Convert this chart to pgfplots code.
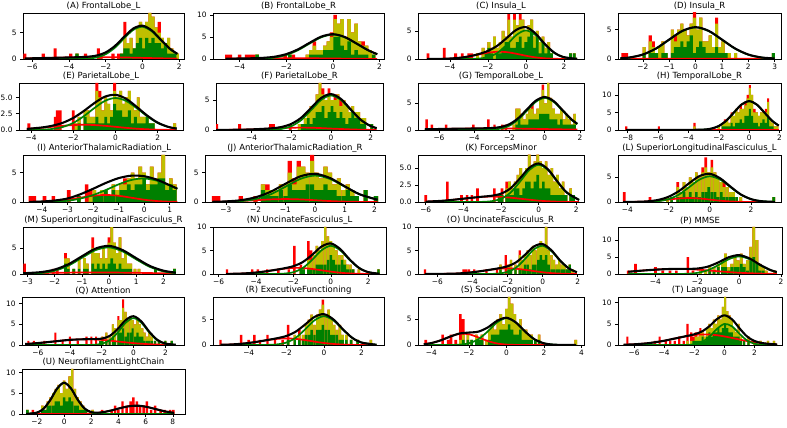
\documentclass[border=0pt]{standalone}
\usepackage{pgfplots}
\pgfplotsset{compat=1.18}
\usepackage{pgfplotstable}
\usepackage{fontspec}
\setmainfont{DejaVu Sans}
\definecolor{cr}{rgb}{1,0,0}
\definecolor{cy}{rgb}{0.75,0.75,0}
\definecolor{cg}{rgb}{0,0.5,0}
\pgfplotsset{
  hb/.style={ybar, bar shift=0pt, draw=none},
  panel/.style={scale only axis, ymin=0, anchor=south west,
    axis line style={line width=0.6pt},
    tick align=outside, major tick length=3pt, tick style={line width=0.5pt, black},
    xtick pos=lower, ytick pos=left,
    tick label style={font=\fontsize{7.4}{8.5}\selectfont},
    xticklabel style={yshift=1.5pt},
    every axis title shift=0pt,
    title style={font=\fontsize{8.5}{10}\selectfont, at={(0.5,1)}, anchor=south, inner sep=0pt, yshift=2.3pt},
    clip=true},
}
\newcommand{\hist}[1]{%
\addplot[hb, fill=cr] table[x=x,y=r]{#1};
\addplot[hb, fill=cy] table[x=x,y=o]{#1};
\addplot[hb, fill=cg] table[x=x,y=g]{#1};}
\newcommand{\curves}[1]{%
\addplot[cr, line width=1.7pt, smooth] table[x=x,y=r]{#1};
\addplot[cg, line width=1.7pt, smooth] table[x=x,y=g]{#1};
\addplot[black, line width=2.1pt, smooth] table[x=x,y=k]{#1};}

% ---------------- histograms: x red yellow green ----------------
\pgfplotstableread{
x r o g
-6.40 1 0 0
-5.40 1 0 0
-4.75 2 0 0
-3.90 1 0 0
-3.56 1 1 1
-3.10 1 0 0
-2.40 2 0 0
-2.25 1 0 0
-1.60 1 0 0
-1.30 1 0 0
-1.13 1 1 1
-0.96 7 4 2
-0.79 3 3 2
-0.62 4 4 1
-0.45 2 2 2
-0.28 6 6 3
-0.11 7 7 4
0.06 6 6 2
0.23 7 7 4
0.40 8.7 8.7 3
0.57 8 8 4
0.74 6 6 3
0.91 7 5 3
1.08 4 4 2
1.25 3 3 3
1.42 4 4 1
1.59 2 2 1
1.76 1 1 1
1.90 1 1 0
}\hA
\pgfplotstableread{
x r o g
-4.55 1 0 0
-4.40 1 0 0
-4.00 1 0 0
-3.70 1 0 0
-3.55 1 0 0
-3.40 1 0 0
-3.25 1 1 1
-2.05 1 0 0
-1.85 1 1 1
-1.70 1 0 0
-1.10 1 1 0
-0.95 2 2 1
-0.80 4 3 1
-0.65 2 2 1
-0.50 2 2 1
-0.35 3 3 2
-0.20 4 4 2
-0.05 6 5 2
0.10 10 9 5
0.25 8 8 5
0.40 9 9 3
0.55 5 5 2
0.70 9 9 4
0.85 6 6 1
1.00 8 8 2
1.15 4 4 1
1.30 4 3 1
1.45 3 3 1
1.60 2 2 0
1.75 1 1 1
}\hB
\pgfplotstableread{
x r o g
-5.15 1 0 0
-4.30 2 0 0
-3.70 1 0 0
-3.35 1 0 0
-3.00 1 0 0
-2.85 1 0 0
-2.55 1 1 0
-2.25 2 2 0
-2.10 1 1 1
-1.95 3 3 2
-1.80 2 2 1
-1.65 4 4 0
-1.50 2 2 1
-1.35 3 3 1
-1.20 5 5 2
-1.05 4 4 3
-0.90 8 7 3
-0.75 4 4 2
-0.60 8 7 2
-0.45 6 6 3
-0.30 8 7 4
-0.15 7 7 2
0.00 5 5 3
0.15 6 6 4
0.30 7 7 5
0.45 4 4 2
0.60 5 5 4
0.75 3 3 1
0.90 4 4 3
1.05 2 2 1
1.20 3 3 2
1.35 1 1 1
2.35 1 1 1
2.55 1 1 1
}\hC
\pgfplotstableread{
x r o g
-2.75 1 0 0
-2.62 1 0 0
-1.95 2 2 1
-1.72 4 3 1
-1.60 3 2 1
-1.48 1 1 1
-1.36 2 2 0
-1.24 3 3 1
-1.12 1 1 1
-0.88 5 5 1
-0.76 4 3 2
-0.64 5 5 2
-0.52 6 6 3
-0.40 5 5 2
-0.28 4 4 3
-0.16 6 6 4
-0.04 8 7 1
0.08 5 5 2
0.20 7 7 3
0.32 3 3 2
0.44 3 3 1
0.56 4 4 1
0.68 2 2 1
0.80 7 6 2
0.92 2 2 1
1.04 3 3 1
1.16 1 1 1
1.28 1 1 0
1.52 1 1 0
2.95 1 1 1
}\hD
\pgfplotstableread{
x r o g
-4.10 1 0 0
-2.85 2 0 0
-2.75 3 0 0
-2.62 3 0 0
-2.00 3 0 0
-1.86 1 1 0
-1.72 2 2 1
-1.44 3 3 2
-1.30 3 3 1
-1.16 2 2 1
-1.02 2 2 1
-0.88 7.2 6 2
-0.74 6 5 1
-0.60 3 3 1
-0.46 5 5 2
-0.32 4 4 1
-0.18 3 3 2
-0.04 7.2 6 4
0.10 5 5 3
0.24 6 6 3
0.38 4 4 2
0.52 5 5 2
0.66 6 6 3
0.80 4 4 1
0.94 3 3 2
1.08 5 5 1
1.22 2 2 1
1.36 2 2 1
1.50 2 2 2
1.64 1 1 1
1.78 1 1 1
2.80 1 1 0
}\hE
\pgfplotstableread{
x r o g
-5.75 1 0 0
-4.60 1 0 0
-3.05 1 0 0
-2.90 1 0 0
-2.05 1 0 0
-1.60 1 1 0
-1.45 1 1 1
-1.30 2 2 1
-1.15 3 3 2
-1.00 4 4 1
-0.85 4 4 2
-0.70 6 6 3
-0.55 7.9 7.9 3
-0.40 7 6 4
-0.25 5 5 2
-0.10 7 6 3
0.05 5 5 4
0.20 6 5 3
0.35 6 6 2
0.50 5 4 3
0.65 5 5 2
0.80 4 4 1
0.95 3 3 2
1.10 4 4 3
1.25 3 3 2
1.40 3 3 2
1.55 2 2 1
1.70 2 2 1
2.05 1 1 1
}\hF
\pgfplotstableread{
x r o g
-6.70 2 0 0
-6.40 1 0 0
-5.60 1 0 0
-4.05 1 0 0
-3.20 2 0 0
-2.85 1 0 0
-2.40 1 0 0
-2.20 1 0 0
-1.75 1 1 0
-1.60 4 4 1
-1.45 4 4 2
-1.30 3 3 1
-1.15 2 2 1
-1.00 3 3 1
-0.85 4 4 2
-0.70 5 4 2
-0.55 3 3 2
-0.40 4 4 2
-0.25 6 6 3
-0.10 8.5 7.5 3
0.05 5 5 3
0.20 8.8 8.8 3
0.35 6 6 2
0.50 4 4 2
0.65 3 3 2
0.80 3 3 1
0.95 4 4 2
1.10 2 2 1
1.25 3 3 1
1.40 2 2 1
1.55 1 1 1
1.70 3 3 1
}\hG
\pgfplotstableread{
x r o g
-8.10 1 0 0
-5.95 1 0 0
-3.60 2 1 0
-2.00 1 1 0
-1.75 2 2 1
-1.60 3 2 1
-1.45 3 3 1
-1.30 2 2 1
-1.15 5 4 2
-1.00 4 4 1
-0.85 6 6 2
-0.70 5 5 2
-0.55 7 6 3
-0.40 6 6 2
-0.25 8 7 4
-0.10 10 9 4
0.05 12.8 12 6
0.20 10 10 4
0.35 6 5 2
0.50 5 5 2
0.65 4 4 1
0.80 5 5 2
0.95 5 5 3
1.10 6 5 2
1.25 9 8 4
1.40 3 3 1
1.55 2 2 1
1.70 1 1 0
1.85 1 1 0
}\hH
\pgfplotstableread{
x r o g
-4.45 1 0 0
-4.30 1 0 0
-3.90 1 0 0
-3.55 1 0 0
-2.95 2 0 0
-2.55 1 1 1
-2.25 3 0 0
-2.10 2 1 0
-1.95 2 2 1
-1.80 1 1 1
-1.65 2 2 1
-1.50 2 2 2
-1.35 1 1 1
-1.20 3 3 2
-1.05 2 2 1
-0.90 3 3 2
-0.75 4 3 2
-0.60 4 4 3
-0.45 5 5 2
-0.30 4 4 3
-0.15 6 6 3
0.00 5 5 4
0.15 3 3 2
0.30 6 6 3
0.45 4 4 3
0.60 5 5 4
0.75 8 8 4
0.90 3 3 2
1.05 4 4 3
1.20 3 3 2
}\hI
\pgfplotstableread{
x r o g
-3.40 1 0 0
-3.25 1 0 0
-2.50 1 0 0
-2.00 1 0 0
-1.75 3 3 2
-1.60 3 2 1
-1.45 2 2 1
-1.30 2 2 1
-1.15 3 3 2
-1.00 3 3 1
-0.85 7 5 3
-0.70 4 3 2
-0.55 7 6 2
-0.40 6 6 2
-0.25 5 5 3
-0.10 8 7 3
0.05 5 5 2
0.20 4 4 2
0.35 6 6 3
0.50 5 5 2
0.65 3 3 2
0.80 4 4 1
0.95 2 2 1
1.10 3 3 2
1.25 2 2 1
1.40 1 1 1
1.70 2 2 2
2.05 1 1 1
}\hJ
\pgfplotstableread{
x r o g
-6.00 1 0 0
-4.85 3 0 0
-4.10 1 0 0
-3.80 1 0 0
-3.55 1 0 0
-3.25 2 0 0
-2.35 2 0 0
-2.10 1 1 1
-1.95 2 1 1
-1.70 3 2 1
-1.55 3 3 1
-1.40 2 2 1
-1.25 3 3 2
-1.10 4 4 2
-0.95 5 5 1
-0.80 4 4 2
-0.65 5 5 3
-0.50 7 7 3
-0.35 5 5 2
-0.20 6 6 3
-0.05 7 7 4
0.10 6 6 2
0.25 5 5 3
0.40 6 6 2
0.55 4 4 2
0.70 5 5 1
0.85 3 3 1
1.00 4 4 1
1.15 2 2 1
1.30 3 3 1
1.45 1 1 1
1.70 2 2 1
1.85 1 1 1
}\hK
\pgfplotstableread{
x r o g
-4.15 2 0 0
-2.90 1 0 0
-2.05 1 1 0
-1.85 1 1 1
-1.55 4 3 1
-1.40 2 2 1
-1.25 4 4 2
-1.10 3 3 1
-0.95 5 5 2
-0.80 4 4 1
-0.65 6 6 2
-0.50 5 5 1
-0.35 7 6 2
-0.20 9 7 2
-0.05 6 6 3
0.10 8.5 7 2
0.25 6 6 2
0.40 5 5 1
0.55 4 4 2
0.70 4 3 1
0.85 3 3 1
1.00 2 2 1
1.15 2 2 1
1.30 1 1 1
1.50 1 1 0
3.10 1 1 1
}\hL
\pgfplotstableread{
x r o g
-3.10 2 0 0
-2.05 1 0 0
-1.90 1 0 0
-1.60 4 3 2
-1.50 3 3 1
-1.30 1 1 1
-1.10 3 3 1
-0.90 3 3 1
-0.80 2 2 1
-0.60 7 5 2
-0.50 4 4 1
-0.40 4 4 2
-0.30 3 3 1
-0.20 5 5 2
-0.10 3 3 1
0.00 7 6 2
0.10 9 9 3
0.20 6 6 2
0.30 4 4 1
0.40 7 7 2
0.50 3 3 1
0.60 4 4 1
0.70 2 2 1
0.80 2 2 1
0.95 1 1 0
1.10 1 1 0
1.70 1 1 1
2.40 1 1 1
}\hM
\pgfplotstableread{
x r o g
-5.55 1 0 0
-4.20 1 0 0
-3.90 1 0 0
-3.40 1 0 0
-2.80 1 0 0
-2.25 1 0 0
-1.95 6 0 0
-1.60 2 1 1
-1.45 1 1 1
-1.20 7 3 1
-1.05 5 3 1
-0.90 4 4 1
-0.75 6 6 2
-0.60 5 5 2
-0.45 7 7 2
-0.30 10 10 2
-0.15 8 8 3
0.00 7 7 4
0.15 6 6 3
0.30 5 5 2
0.45 4 4 2
0.60 4 4 3
0.75 3 3 2
0.90 2 2 1
1.05 2 2 1
1.20 1 1 1
1.50 1 1 0
2.55 1 1 1
}\hN
\pgfplotstableread{
x r o g
-6.70 1 0 0
-4.50 1 0 0
-4.35 1 0 0
-4.20 1 0 0
-3.90 1 0 0
-3.20 1 0 0
-2.60 1 0 0
-2.40 2 2 1
-2.10 4 0 0
-1.95 2 2 1
-1.80 3 3 1
-1.55 2 2 1
-1.30 5 4 1
-1.15 3 3 1
-1.00 4 4 2
-0.85 5 5 2
-0.70 4 4 1
-0.55 6 6 2
-0.40 5 5 2
-0.25 6 6 3
-0.10 7 7 4
0.05 6 6 3
0.20 10 10 4
0.35 5 5 2
0.50 4 4 1
0.65 3 3 1
0.80 2 2 1
0.95 3 3 1
1.10 2 2 1
1.25 2 2 1
1.40 1 1 1
1.55 2 2 2
1.70 1 1 0
}\hO
\pgfplotstableread{
x r o g
-5.30 1 0 0
-4.95 3 0 0
-4.00 2 0 0
-3.65 1 0 0
-3.30 1 0 0
-3.00 1 0 0
-2.45 5 0 0
-2.20 1 0 0
-1.85 1 1 0
-1.60 1 1 0
-1.40 2 2 1
-1.20 2 2 1
-1.00 3 3 2
-0.80 4 4 2
-0.65 6 6 2
-0.50 2 2 1
-0.35 3 3 2
-0.20 5 5 2
-0.05 4 4 2
0.10 6 6 3
0.25 3 3 2
0.40 4 4 1
0.55 8 8 4
0.70 13.9 13.9 5
0.85 10 10 3
1.00 3 3 1
1.15 2 2 1
1.30 1 1 0
1.70 1 1 0
}\hP
\pgfplotstableread{
x r o g
-6.60 1 0 0
-6.25 1 0 0
-5.60 1 0 0
-4.90 3 0 0
-4.45 1 0 0
-4.00 2 0 0
-3.50 1 0 0
-2.95 2 0 0
-2.65 2 0 0
-2.35 2 0 0
-2.10 1 1 1
-1.95 2 2 1
-1.70 3 3 1
-1.50 2 2 1
-1.30 5 5 2
-1.15 4 4 1
-0.95 7 6 3
-0.80 6 6 3
-0.65 11 9 4
-0.50 8 8 2
-0.35 6 6 3
-0.20 7 7 3
-0.05 6 6 4
0.10 5 5 2
0.25 6 6 3
0.40 5 5 2
0.55 4 4 2
0.70 3 3 1
0.85 2 2 1
1.00 3 3 1
1.15 2 2 1
1.35 1 1 1
1.60 1 1 1
2.00 1 1 1
2.40 1 1 1
}\hQ
\pgfplotstableread{
x r o g
-5.50 1 0 0
-4.40 2 0 0
-4.00 1 0 0
-3.70 2 0 0
-3.40 1 0 0
-3.00 2 0 0
-2.60 1 0 0
-2.20 1 0 0
-1.90 4 1 1
-1.55 2 2 1
-1.30 3 2 1
-1.10 2 2 1
-0.95 4 4 2
-0.80 5 5 2
-0.65 6 6 3
-0.50 4 4 2
-0.35 6 6 3
-0.20 7 7 3
-0.05 9 8 4
0.10 6 6 3
0.25 7 7 3
0.40 5 5 2
0.55 4 4 2
0.70 3 3 2
0.85 4 4 1
1.00 2 2 1
1.20 2 2 1
1.45 1 1 1
1.80 1 1 1
2.50 1 1 0
}\hR
\pgfplotstableread{
x r o g
-4.30 1 0 0
-3.40 2 0 0
-3.10 1 0 0
-2.95 2 0 0
-2.70 1 0 0
-2.45 6 1 0
-2.30 5 2 1
-2.05 2 2 1
-1.85 1 1 1
-1.60 2 2 1
-1.45 1 1 1
-1.30 2 2 1
-1.05 1 1 0
-0.90 3 3 1
-0.75 4 4 2
-0.60 3 3 2
-0.45 5 5 2
-0.30 6 6 3
-0.15 4 4 3
0.00 7 7 3
0.15 9.3 9.3 4
0.30 8 8 3
0.45 6 6 2
0.60 4 4 2
0.75 5 5 3
0.90 3 3 1
1.05 3 3 1
1.20 2 2 1
1.35 2 2 1
1.55 1 1 1
1.75 2 2 1
3.70 1 1 0
}\hS
\pgfplotstableread{
x r o g
-6.45 2 0 0
-4.60 1 0 0
-4.30 2 0 0
-3.90 1 0 0
-3.60 1 0 0
-3.30 1 0 0
-3.00 2 0 0
-2.70 1 0 0
-2.45 5 1 0
-2.20 3 1 0
-2.05 2 1 1
-1.90 3 2 1
-1.75 2 2 1
-1.60 4 3 1
-1.45 3 3 2
-1.30 2 2 1
-1.15 4 4 2
-1.00 5 5 3
-0.85 4 4 2
-0.70 6 6 3
-0.55 5 5 3
-0.40 7 7 4
-0.25 6 6 3
-0.10 9 9 4
0.05 11.3 11.3 5
0.20 8 8 4
0.35 7 7 3
0.50 6 6 3
0.65 4 4 2
0.80 3 3 2
0.95 5 5 2
1.10 2 2 1
1.30 1 1 1
1.60 2 2 1
2.00 1 1 0
2.40 1 1 0
2.90 1 1 0
3.30 1 1 0
}\hT
\pgfplotstableread{
x r o g
-2.70 1 1 1
-2.30 1 0 0
-1.60 2 2 1
-1.40 1 1 1
-1.20 3 3 2
-1.00 4 4 2
-0.80 5 5 2
-0.60 6 6 3
-0.40 7 7 3
-0.20 5 5 2
0.00 8 8 4
0.20 6 6 3
0.40 9 9 4
0.60 10.8 10.8 3
0.80 6 6 2
1.00 4 4 2
1.20 3 3 1
1.40 2 2 1
1.60 1 1 1
2.10 1 1 0
2.80 1 0 0
3.50 1 0 0
3.75 2 0 0
4.00 1 0 0
4.30 3 0 0
4.60 2 0 0
4.90 3 0 0
5.10 4 0 0
5.35 3 0 0
5.60 2 0 0
5.85 2 0 0
6.10 3 0 0
6.40 1 0 0
6.70 2 0 0
7.10 1 0 0
7.40 1 0 0
7.80 1 0 0
8.05 1 0 0
}\hU

% ---------------- fitted curves: x green red black ----------------
\pgfplotstableread{
x g r k
-6.4 0 0.10 0.10
-5.5 0 0.17 0.17
-4.5 0 0.25 0.25
-3.5 0.02 0.32 0.34
-3 0.08 0.34 0.42
-2.5 0.30 0.35 0.65
-2 0.91 0.34 1.25
-1.5 2.14 0.32 2.46
-1 3.89 0.29 4.18
-0.5 5.51 0.25 5.76
0 6.09 0.21 6.30
0.5 5.25 0.17 5.42
1 3.52 0.13 3.65
1.5 1.83 0.10 1.93
1.9 0.91 0.07 0.98
}\cA
\pgfplotstableread{
x g r k
-4.6 0 0.07 0.07
-4 0.00 0.11 0.11
-3.5 0.02 0.14 0.16
-3 0.09 0.17 0.26
-2.5 0.32 0.19 0.51
-2 0.90 0.20 1.10
-1.5 1.98 0.19 2.17
-1 3.49 0.17 3.66
-0.5 4.91 0.14 5.05
0 5.50 0.11 5.61
0.5 4.91 0.08 4.99
1 3.49 0.05 3.54
1.5 1.98 0.03 2.01
1.9 1.07 0.02 1.09
}\cB
\pgfplotstableread{
x g r k
-5.2 0 0 0.01
-4.5 0 0.02 0.02
-4 0 0.08 0.08
-3.5 0 0.21 0.21
-3 0.01 0.45 0.46
-2.5 0.07 0.79 0.86
-2 0.32 1.12 1.44
-1.5 1.08 1.29 2.37
-1 2.55 1.22 3.77
-0.5 4.28 0.93 5.21
0 5.10 0.58 5.68
0.5 4.28 0.29 4.57
1 2.55 0.12 2.67
1.5 1.08 0.04 1.12
2 0.32 0.01 0.33
2.7 0.03 0 0.03
}\cC
\pgfplotstableread{
x g r k
-2.85 0.09 0.03 0.12
-2.5 0.23 0.03 0.26
-2 0.72 0.04 0.76
-1.5 1.74 0.04 1.78
-1 3.25 0.05 3.30
-0.5 4.72 0.05 4.77
0 5.35 0.05 5.40
0.5 4.72 0.05 4.77
1 3.25 0.05 3.30
1.5 1.74 0.04 1.78
2 0.72 0.04 0.76
2.5 0.23 0.03 0.26
3 0.06 0.03 0.09
}\cD
\pgfplotstableread{
x g r k
-4.2 0.01 0.16 0.17
-3.5 0.05 0.33 0.38
-3 0.16 0.49 0.65
-2.5 0.46 0.64 1.10
-2 1.08 0.76 1.84
-1.5 2.11 0.80 2.91
-1 3.36 0.76 4.12
-0.5 4.46 0.64 5.10
0 4.90 0.49 5.39
0.5 4.46 0.33 4.79
1 3.36 0.20 3.56
1.5 2.11 0.11 2.22
2 1.08 0.05 1.13
2.5 0.46 0.02 0.48
2.9 0.21 0.01 0.22
}\cE
\pgfplotstableread{
x g r k
-5.8 0 0.01 0.01
-5 0 0.03 0.03
-4 0 0.10 0.10
-3 0.04 0.24 0.28
-2.5 0.18 0.32 0.50
-2 0.64 0.38 1.02
-1.5 1.66 0.40 2.06
-1 3.34 0.38 3.72
-0.5 5.05 0.32 5.37
0 5.80 0.24 6.04
0.5 5.05 0.17 5.22
1 3.34 0.10 3.44
1.5 1.66 0.05 1.71
2 0.64 0.02 0.66
2.3 0.31 0.01 0.32
}\cF
\pgfplotstableread{
x g r k
-6.8 0 0.13 0.13
-6 0 0.18 0.18
-5 0 0.24 0.24
-4 0 0.28 0.28
-3 0.07 0.30 0.37
-2.5 0.26 0.30 0.56
-2 0.81 0.28 1.09
-1.5 1.95 0.26 2.21
-1 3.64 0.24 3.88
-0.5 5.29 0.21 5.50
0 6.00 0.18 6.18
0.5 5.29 0.15 5.44
1 3.64 0.12 3.76
1.5 1.95 0.10 2.05
1.85 1.08 0.08 1.16
}\cG
\pgfplotstableread{
x g r k
-8.1 0 0.03 0.03
-7 0 0.03 0.03
-6 0 0.03 0.03
-5 0 0.03 0.03
-4 0 0.03 0.03
-3 0.09 0.03 0.12
-2.5 0.36 0.03 0.39
-2 1.11 0.03 1.14
-1.5 2.66 0.03 2.69
-1 4.98 0.03 5.01
-0.5 7.24 0.03 7.27
0 8.20 0.03 8.23
0.5 7.24 0.03 7.27
1 4.98 0.03 5.01
1.5 2.66 0.03 2.69
1.95 1.22 0.03 1.25
}\cH
\pgfplotstableread{
x g r k
-4.5 0.01 0.01 0.02
-4 0.03 0.05 0.08
-3.5 0.09 0.16 0.25
-3 0.20 0.39 0.59
-2.5 0.58 0.73 1.31
-2 1.18 1.06 2.24
-1.5 2.04 1.20 3.24
-1 3.00 1.06 4.06
-0.5 3.75 0.73 4.48
0 4.00 0.39 4.39
0.5 3.63 0.16 3.79
1 2.81 0.05 2.86
1.3 2.23 0.03 2.26
}\cI
\pgfplotstableread{
x g r k
-3.45 0 0.03 0.03
-3 0.03 0.07 0.10
-2.5 0.14 0.16 0.30
-2 0.50 0.30 0.80
-1.5 1.29 0.44 1.73
-1 2.59 0.50 3.09
-0.5 3.92 0.44 4.36
0 4.50 0.30 4.80
0.5 3.92 0.16 4.08
1 2.59 0.07 2.66
1.5 1.29 0.02 1.31
2.1 0.39 0 0.39
}\cJ
\pgfplotstableread{
x g r k
-6 0 0.05 0.05
-5 0 0.20 0.20
-4 0 0.49 0.49
-3.5 0 0.64 0.64
-3 0.02 0.76 0.78
-2.5 0.12 0.80 0.92
-2 0.47 0.76 1.23
-1.5 1.37 0.64 2.01
-1 2.97 0.49 3.46
-0.5 4.71 0.34 5.05
0 5.50 0.20 5.70
0.5 4.71 0.11 4.82
1 2.97 0.05 3.02
1.5 1.37 0.02 1.39
2.15 0.31 0 0.31
}\cK
\pgfplotstableread{
x g r k
-4.2 0 0 0
-3.5 0 0.04 0.04
-3 0.03 0.11 0.14
-2.5 0.16 0.26 0.42
-2 0.57 0.49 1.06
-1.5 1.49 0.71 2.20
-1 3.00 0.80 3.80
-0.5 4.53 0.71 5.24
0 5.20 0.49 5.69
0.5 4.53 0.26 4.79
1 3.00 0.11 3.11
1.5 1.49 0.04 1.53
2 0.57 0.01 0.58
2.5 0.16 0 0.16
3.15 0.02 0 0.02
}\cL
\pgfplotstableread{
x g r k
-3.15 0.02 0.12 0.14
-2.5 0.18 0.18 0.36
-2 0.62 0.23 0.85
-1.5 1.58 0.26 1.84
-1 3.09 0.29 3.38
-0.5 4.56 0.30 4.86
0 5.10 0.29 5.39
0.5 4.31 0.26 4.57
1 2.79 0.23 3.02
1.5 1.35 0.18 1.53
2 0.49 0.14 0.63
2.45 0.16 0.10 0.26
}\cM
\pgfplotstableread{
x g r k
-5.6 0 0.02 0.02
-5 0 0.06 0.06
-4.5 0 0.15 0.15
-4 0 0.31 0.31
-3.5 0 0.55 0.55
-3 0.01 0.85 0.86
-2.5 0.08 1.12 1.20
-2 0.38 1.29 1.67
-1.5 1.27 1.27 2.54
-1 3.00 1.07 4.07
-0.5 5.04 0.79 5.83
0 6.00 0.50 6.50
0.5 5.04 0.27 5.31
1 3.00 0.13 3.13
1.5 1.27 0.05 1.32
2 0.38 0.02 0.40
2.6 0.06 0 0.06
}\cN
\pgfplotstableread{
x g r k
-6.7 0 0 0
-6 0 0.01 0.01
-5 0 0.08 0.08
-4.5 0 0.19 0.19
-4 0 0.37 0.37
-3.5 0 0.62 0.62
-3 0.01 0.89 0.90
-2.5 0.10 1.12 1.22
-2 0.44 1.20 1.64
-1.5 1.39 1.12 2.51
-1 3.21 0.89 4.10
-0.5 5.22 0.62 5.84
0 6.00 0.37 6.37
0.5 4.86 0.19 5.05
1 2.78 0.08 2.86
1.5 1.14 0.03 1.17
1.95 0.38 0.01 0.39
}\cO
\pgfplotstableread{
x g r k
-5.3 0 0.66 0.66
-4.5 0 1.07 1.07
-4 0 1.28 1.28
-3.5 0 1.44 1.44
-3 0.01 1.50 1.51
-2.5 0.07 1.44 1.51
-2 0.33 1.28 1.61
-1.5 1.10 1.07 2.17
-1 2.60 0.81 3.41
-0.5 4.37 0.57 4.94
0 5.20 0.37 5.57
0.5 4.37 0.23 4.60
1 2.60 0.13 2.73
1.5 1.10 0.07 1.17
1.8 0.55 0.04 0.59
}\cP
\pgfplotstableread{
x g r k
-6.8 0 0.23 0.23
-6 0 0.46 0.46
-5 0 0.85 0.85
-4 0 1.24 1.24
-3 0 1.40 1.40
-2.5 0.05 1.36 1.41
-2 0.29 1.24 1.53
-1.5 1.12 1.06 2.18
-1 2.98 0.85 3.83
-0.5 5.35 0.64 5.99
0 6.50 0.46 6.96
0.5 5.35 0.30 5.65
1 2.98 0.19 3.17
1.5 1.12 0.11 1.23
2 0.29 0.06 0.35
2.65 0.03 0.03 0.06
}\cQ
\pgfplotstableread{
x g r k
-5.5 0 0.04 0.04
-5 0 0.09 0.09
-4.5 0 0.21 0.21
-4 0 0.40 0.40
-3.5 0 0.67 0.67
-3 0.02 0.97 0.99
-2.5 0.12 1.21 1.33
-2 0.48 1.30 1.78
-1.5 1.42 1.21 2.63
-1 3.08 0.97 4.05
-0.5 4.88 0.67 5.55
0 5.70 0.40 6.10
0.5 4.88 0.21 5.09
1 3.08 0.09 3.17
1.5 1.42 0.03 1.45
2 0.48 0.01 0.49
2.8 0.05 0 0.05
}\cR
\pgfplotstableread{
x g r k
-4.4 0 0.15 0.15
-4 0 0.37 0.37
-3.5 0 0.90 0.90
-3 0 1.62 1.62
-2.5 0.07 2.15 2.22
-2 0.33 2.08 2.41
-1.5 1.10 1.48 2.58
-1 2.60 0.78 3.38
-0.5 4.37 0.30 4.67
0 5.20 0.08 5.28
0.5 4.37 0.02 4.39
1 2.60 0 2.60
1.5 1.10 0 1.10
2 0.33 0 0.33
2.5 0.07 0 0.07
3 0.01 0 0.01
3.7 0 0 0
}\cS
\pgfplotstableread{
x g r k
-6.7 0 0.07 0.07
-6 0 0.16 0.16
-5 0 0.45 0.45
-4 0 1.00 1.00
-3.5 0 1.37 1.37
-3 0 1.74 1.74
-2.5 0.03 2.09 2.12
-2 0.16 2.35 2.51
-1.5 0.68 2.49 3.17
-1 1.94 2.47 4.41
-0.5 3.77 2.31 6.08
0 4.96 2.02 6.98
0.5 4.41 1.67 6.08
1 2.66 1.29 3.95
1.5 1.08 0.94 2.02
2 0.30 0.64 0.94
2.5 0.05 0.41 0.46
3 0.01 0.25 0.26
3.5 0 0.14 0.14
}\cT
\pgfplotstableread{
x g r k
-2.8 0.02 0 0.02
-2 0.33 0 0.33
-1.5 1.29 0 1.29
-1 3.44 0 3.44
-0.5 6.17 0 6.17
0 7.50 0 7.50
0.5 6.17 0 6.17
1 3.44 0 3.44
1.5 1.29 0.05 1.34
2 0.33 0.12 0.45
2.5 0.04 0.27 0.31
3 0 0.52 0.52
3.5 0 0.87 0.87
4 0 1.30 1.30
4.5 0 1.70 1.70
5 0 1.95 1.95
5.5 0 1.98 1.98
6 0 1.76 1.76
6.5 0 1.38 1.38
7 0 0.96 0.96
7.5 0 0.58 0.58
8.1 0 0.27 0.27
}\cU

\begin{document}
\begin{tikzpicture}[x=1pt,y=1pt]
\useasboundingbox (0,0) rectangle (787,428);
% ---------- row 1 ----------
\begin{axis}[panel, at={(23pt,369pt)}, width=161pt, height=46pt, title={(A) FrontalLobe\_L},
  xmin=-6.5, xmax=2.26, ymax=8.7, bar width=0.17,
  xtick={-6,-4,-2,0,2}, xticklabels={−6,−4,−2,0,2}, ytick={0,5}, yticklabels={0,5}]
\hist{\hA}\curves{\cA}
\end{axis}
\begin{axis}[panel, at={(213pt,369pt)}, width=171pt, height=46pt, title={(B) FrontalLobe\_R},
  xmin=-5.14, xmax=2.19, ymax=10.4, bar width=0.15,
  xtick={-4,-2,0,2}, xticklabels={−4,−2,0,2}, ytick={0,5,10}, yticklabels={0,5,10}]
\hist{\hB}\curves{\cB}
\end{axis}
\begin{axis}[panel, at={(418pt,369pt)}, width=166pt, height=46pt, title={(C) Insula\_L},
  xmin=-5.68, xmax=3.06, ymax=8.2, bar width=0.15,
  xtick={-4,-2,0,2}, xticklabels={−4,−2,0,2}, ytick={0,5}, yticklabels={0,5}]
\hist{\hC}\curves{\cC}
\end{axis}
\begin{axis}[panel, at={(618pt,369pt)}, width=163pt, height=46pt, title={(D) Insula\_R},
  xmin=-2.94, xmax=3.24, ymax=7.8, bar width=0.12,
  xtick={-3,-2,-1,0,1,2,3}, xticklabels={−3,−2,−1,0,1,2,3}, ytick={0,5}, yticklabels={0,5}]
\hist{\hD}\curves{\cD}
\end{axis}
% ---------- row 2 ----------
\begin{axis}[panel, at={(19pt,298pt)}, width=164pt, height=47pt, title={(E) ParietalLobe\_L},
  xmin=-4.57, xmax=3.2, ymax=7.2, bar width=0.14,
  xtick={-4,-2,0,2}, xticklabels={−4,−2,0,2}, ytick={0,2.5,5}, yticklabels={0.0,2.5,5.0}]
\hist{\hE}\curves{\cE}
\end{axis}
\begin{axis}[panel, at={(216pt,298pt)}, width=167pt, height=47pt, title={(F) ParietalLobe\_R},
  xmin=-5.79, xmax=2.62, ymax=7.9, bar width=0.14,
  xtick={-6,-4,-2,0,2}, xticklabels={−6,−4,−2,0,2}, ytick={0,5}, yticklabels={0,5}]
\hist{\hF}\curves{\cF}
\end{axis}
\begin{axis}[panel, at={(418pt,298pt)}, width=166pt, height=47pt, title={(G) TemporalLobe\_L},
  xmin=-7.19, xmax=2.23, ymax=8.8, bar width=0.14,
  xtick={-6,-4,-2,0,2}, xticklabels={−6,−4,−2,0,2}, ytick={0,5}, yticklabels={0,5}]
\hist{\hG}\curves{\cG}
\end{axis}
\begin{axis}[panel, at={(618pt,298pt)}, width=163pt, height=47pt, title={(H) TemporalLobe\_R},
  xmin=-8.64, xmax=2.1, ymax=13.4, bar width=0.14,
  xtick={-8,-6,-4,-2,0,2}, xticklabels={−8,−6,−4,−2,0,2}, ytick={0,5,10}, yticklabels={0,5,10}]
\hist{\hH}\curves{\cH}
\end{axis}
% ---------- row 3 ----------
\begin{axis}[panel, at={(23pt,226pt)}, width=162pt, height=47pt, title={(I) AnteriorThalamicRadiation\_L},
  xmin=-4.74, xmax=1.6, ymax=8, bar width=0.14,
  xtick={-4,-3,-2,-1,0,1}, xticklabels={−4,−3,−2,−1,0,1}, ytick={0,5}, yticklabels={0,5}]
\hist{\hI}\curves{\cI}
\end{axis}
\begin{axis}[panel, at={(205pt,226pt)}, width=180pt, height=47pt, title={(J) AnteriorThalamicRadiation\_R},
  xmin=-3.7, xmax=2.35, ymax=8, bar width=0.14,
  xtick={-3,-2,-1,0,1,2}, xticklabels={−3,−2,−1,0,1,2}, ytick={0,5}, yticklabels={0,5}]
\hist{\hJ}\curves{\cJ}
\end{axis}
\begin{axis}[panel, at={(418pt,226pt)}, width=166pt, height=47pt, title={(K) ForcepsMinor},
  xmin=-6.41, xmax=2.41, ymax=6.95, bar width=0.14,
  xtick={-6,-4,-2,0,2}, xticklabels={−6,−4,−2,0,2}, ytick={0,2.5,5}, yticklabels={0.0,2.5,5.0}]
\hist{\hK}\curves{\cK}
\end{axis}
\begin{axis}[panel, at={(618pt,226pt)}, width=163pt, height=47pt, title={(L) SuperiorLongitudinalFasciculus\_L},
  xmin=-4.45, xmax=3.45, ymax=9.5, bar width=0.13,
  xtick={-4,-2,0,2}, xticklabels={−4,−2,0,2}, ytick={0,5}, yticklabels={0,5}]
\hist{\hL}\curves{\cL}
\end{axis}
% ---------- row 4 ----------
\begin{axis}[panel, at={(23pt,154pt)}, width=161pt, height=47pt, title={(M) SuperiorLongitudinalFasciculus\_R},
  xmin=-3.16, xmax=2.75, ymax=9.0, bar width=0.1,
  xtick={-3,-2,-1,0,1,2}, xticklabels={−3,−2,−1,0,1,2}, ytick={0,5}, yticklabels={0,5}]
\hist{\hM}\curves{\cM}
\end{axis}
\begin{axis}[panel, at={(213pt,154pt)}, width=173pt, height=47pt, title={(N) UncinateFasciculus\_L},
  xmin=-6.3, xmax=2.95, ymax=10, bar width=0.13,
  xtick={-6,-4,-2,0,2}, xticklabels={−6,−4,−2,0,2}, ytick={0,5,10}, yticklabels={0,5,10}]
\hist{\hN}\curves{\cN}
\end{axis}
\begin{axis}[panel, at={(418pt,154pt)}, width=165pt, height=47pt, title={(O) UncinateFasciculus\_R},
  xmin=-7.1, xmax=2.3, ymax=10, bar width=0.13,
  xtick={-6,-4,-2,0,2}, xticklabels={−6,−4,−2,0,2}, ytick={0,5,10}, yticklabels={0,5,10}]
\hist{\hO}\curves{\cO}
\end{axis}
\begin{axis}[panel, at={(618pt,154pt)}, width=164pt, height=47pt, title={(P) MMSE},
  xmin=-5.79, xmax=2.05, ymax=13.9, bar width=0.13,
  xtick={-4,-2,0,2}, xticklabels={−4,−2,0,2}, ytick={0,5,10}, yticklabels={0,5,10}]
\hist{\hP}\curves{\cP}
\end{axis}
% ---------- row 5 ----------
\begin{axis}[panel, at={(22pt,83pt)}, width=162pt, height=48pt, title={(Q) Attention},
  xmin=-7.0, xmax=3.17, ymax=11.6, bar width=0.13,
  xtick={-6,-4,-2,0,2}, xticklabels={−6,−4,−2,0,2}, ytick={0,5,10}, yticklabels={0,5,10}]
\hist{\hQ}\curves{\cQ}
\end{axis}
\begin{axis}[panel, at={(213pt,83pt)}, width=171pt, height=48pt, title={(R) ExecutiveFunctioning},
  xmin=-5.9, xmax=3.2, ymax=9.5, bar width=0.13,
  xtick={-4,-2,0,2}, xticklabels={−4,−2,0,2}, ytick={0,5}, yticklabels={0,5}]
\hist{\hR}\curves{\cR}
\end{axis}
\begin{axis}[panel, at={(418pt,83pt)}, width=166pt, height=48pt, title={(S) SocialCognition},
  xmin=-4.71, xmax=4.14, ymax=9.3, bar width=0.14,
  xtick={-4,-2,0,2,4}, xticklabels={−4,−2,0,2,4}, ytick={0,5}, yticklabels={0,5}]
\hist{\hS}\curves{\cS}
\end{axis}
\begin{axis}[panel, at={(618pt,83pt)}, width=164pt, height=48pt, title={(T) Language},
  xmin=-7.07, xmax=3.83, ymax=11.3, bar width=0.14,
  xtick={-6,-4,-2,0,2,4}, xticklabels={−6,−4,−2,0,2,4}, ytick={0,5,10}, yticklabels={0,5,10}]
\hist{\hT}\curves{\cT}
\end{axis}
% ---------- row 6 ----------
\begin{axis}[panel, at={(22pt,14pt)}, width=163pt, height=45pt, title={(U) NeurofilamentLightChain},
  xmin=-3.1, xmax=8.9, ymax=10.8, bar width=0.18,
  xtick={-2,0,2,4,6,8}, xticklabels={−2,0,2,4,6,8}, ytick={0,5,10}, yticklabels={0,5,10}]
\hist{\hU}\curves{\cU}
\end{axis}
\end{tikzpicture}
\end{document}
